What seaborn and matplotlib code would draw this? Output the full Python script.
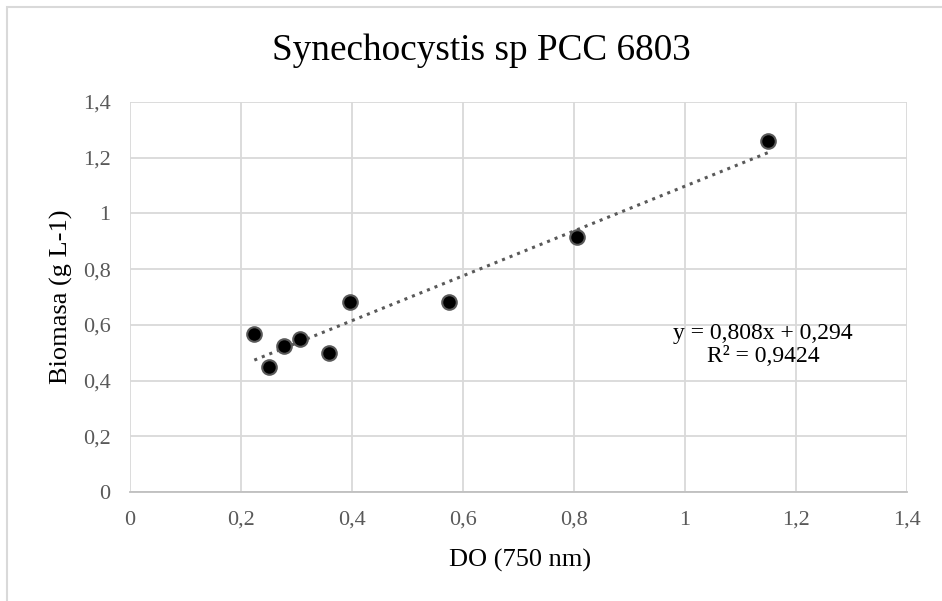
import pandas as pd
import seaborn as sns
import matplotlib.pyplot as plt
from matplotlib.patches import Rectangle
from matplotlib.ticker import FixedLocator, FuncFormatter

# --------------------
# Data
# --------------------
do_750 = [0.224, 0.250, 0.277, 0.307, 0.358, 0.396, 0.575, 0.805, 1.150]
biomasa = [0.566, 0.450, 0.525, 0.550, 0.500, 0.683, 0.683, 0.915, 1.261]
x_ticks = [0, 0.2, 0.4, 0.6, 0.8, 1.0, 1.2, 1.4]
y_ticks = [0, 0.2, 0.4, 0.6, 0.8, 1.0, 1.2, 1.4]
title = "Synechocystis sp PCC 6803"
x_label = "DO (750 nm)"
y_label = "Biomasa (g L-1)"
trend_text = "y = 0,808x + 0,294\nR² = 0,9424"

df = pd.DataFrame({"do": do_750, "biomasa": biomasa})

sns.set_theme(style="white")
plt.rcParams["font.family"] = ["Liberation Serif", "DejaVu Serif"]

fig = plt.figure(figsize=(9.42, 6.01), dpi=100)
ax = fig.add_axes([130 / 942, 1 - 492 / 601, 777 / 942, 390 / 601])

# chart area border (Excel style), only left/top visible in the crop
fig.patches.append(Rectangle((7 / 942, -0.5), 2.0, 1 - 7 / 601 + 0.5,
                             transform=fig.transFigure, fill=False,
                             edgecolor="#d9d9d9", linewidth=1.5, zorder=0))

# --------------------
# Trendline + points
# --------------------
sns.regplot(data=df, x="do", y="biomasa", ax=ax, scatter=False, ci=None,
            truncate=True,
            line_kws=dict(color="#595959", linestyle=":", linewidth=2.2, zorder=2))
sns.scatterplot(data=df, x="do", y="biomasa", ax=ax, s=110, color="black",
                edgecolor="#595959", linewidth=1.5, zorder=3)

ax.set_xlim(0, 1.4)
ax.set_ylim(0, 1.4)
fmt = FuncFormatter(lambda v, _: f"{v:g}".replace(".", ","))
ax.xaxis.set_major_locator(FixedLocator(x_ticks))
ax.yaxis.set_major_locator(FixedLocator(y_ticks))
ax.xaxis.set_major_formatter(fmt)
ax.yaxis.set_major_formatter(fmt)

ax.grid(True, color="#d9d9d9", linewidth=1.3)
ax.set_axisbelow(True)
for side in ["top", "right", "left"]:
    ax.spines[side].set_visible(False)
ax.spines["bottom"].set_color("#bfbfbf")
ax.spines["bottom"].set_linewidth(1.3)
ax.tick_params(axis="both", length=0, labelsize=16, labelcolor="#595959")
ax.tick_params(axis="y", pad=14)
ax.tick_params(axis="x", pad=13.5)

ax.set_xlabel(x_label, fontsize=19, color="black")
ax.set_ylabel(y_label, fontsize=19, color="black")
ax.xaxis.label.set_va("baseline")
ax.xaxis.set_label_coords(0.5026, -0.1915)
ax.yaxis.label.set_va("baseline")
ax.yaxis.set_label_coords(-0.0798, 0.5)

fig.text(481.7 / 942, 1 - 60 / 601, title, ha="center", va="baseline",
         fontsize=26.8, color="black")

ax.text(1.141, 0.528, trend_text, ha="center", va="center", fontsize=17,
        linespacing=1.1, color="black")

fig.savefig("out.png", dpi=100, facecolor="white")
